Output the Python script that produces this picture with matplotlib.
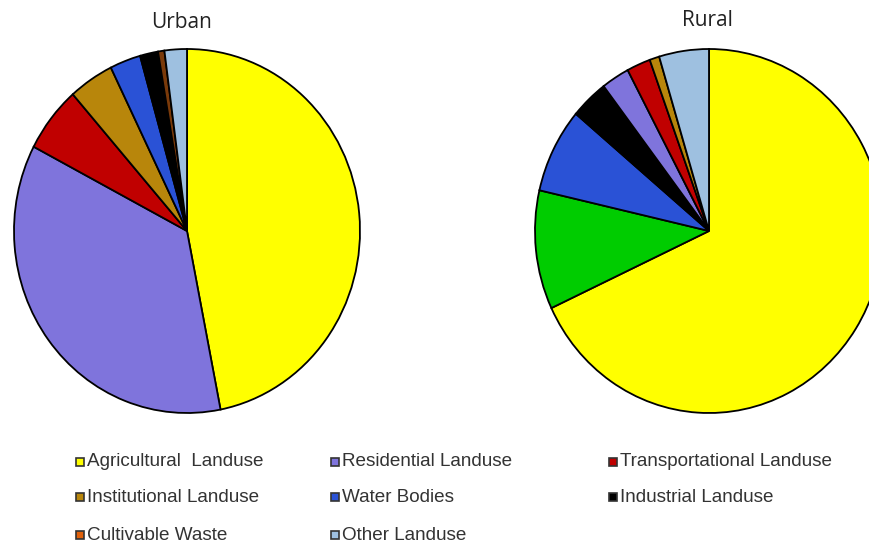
import matplotlib
matplotlib.use("Agg")
import matplotlib.pyplot as plt
from matplotlib.patches import Rectangle

# ---- data ----
urban_labels = ["Agricultural  Landuse", "Residential Landuse", "Transportational Landuse",
                "Institutional Landuse", "Water Bodies", "Industrial Landuse",
                "Cultivable Waste", "Other Landuse"]
urban_values = [47.2, 36.0, 5.9, 4.25, 2.9, 1.7, 0.6, 2.1]

rural_labels = ["Agricultural  Landuse", "Unlabelled", "Water Bodies", "Industrial Landuse",
                "Residential Landuse", "Transportational Landuse", "Institutional Landuse",
                "Other Landuse"]
rural_values = [67.7, 10.5, 7.5, 3.5, 2.6, 2.2, 0.9, 4.6]

legend_labels = ["Agricultural  Landuse", "Residential Landuse", "Transportational Landuse",
                 "Institutional Landuse", "Water Bodies", "Industrial Landuse",
                 "Cultivable Waste", "Other Landuse"]

colors = {
    "Agricultural  Landuse": "#FFFF00",
    "Residential Landuse": "#7F74DC",
    "Transportational Landuse": "#C00000",
    "Institutional Landuse": "#B8860B",
    "Water Bodies": "#2A52D6",
    "Industrial Landuse": "#000000",
    "Cultivable Waste": "#7A3A0A",
    "Other Landuse": "#9EC0E0",
    "Unlabelled": "#00CC00",
}
legend_colors = dict(colors)
legend_colors["Cultivable Waste"] = "#E0600A"

W, H = 870, 547
fig = plt.figure(figsize=(W / 100, H / 100), dpi=100)
fig.patch.set_facecolor("white")


def add_pie(cx, cy, rx, ry, labels, values, title, tx, ty):
    ax = fig.add_axes([(cx - rx) / W, (H - cy - ry) / H, 2 * rx / W, 2 * ry / H])
    ax.pie(values, colors=[colors[l] for l in labels], startangle=90, counterclock=False,
           radius=1.0, wedgeprops=dict(edgecolor="black", linewidth=1.3))
    ax.set_xlim(-1.0, 1.0)
    ax.set_ylim(-1.0, 1.0)
    ax.set_aspect("auto")
    ax.axis("off")
    fig.text(tx / W, 1 - ty / H, title, ha="center", va="center", fontsize=15,
             family="Open Sans", color="#222222")


add_pie(187, 231, 173, 182, urban_labels, urban_values, "Urban", 182, 22)
add_pie(709, 231, 174, 182, rural_labels, rural_values, "Rural", 707, 20)

# ---- legend ----
col_x = [80, 335, 613]
row_y = [462, 497, 535]
for i, lab in enumerate(legend_labels):
    r, c = divmod(i, 3)
    x, y = col_x[c], row_y[r]
    fig.add_artist(Rectangle(((x - 4) / W, 1 - (y + 4) / H), 8 / W, 8 / H,
                             transform=fig.transFigure, facecolor=legend_colors[lab],
                             edgecolor="#333333", linewidth=1.2))
    fig.text((x + 7) / W, 1 - y / H, lab, ha="left", va="center", fontsize=13.6,
             family="Liberation Sans", color="#333333")

fig.savefig("out.png", dpi=100, facecolor="white")
